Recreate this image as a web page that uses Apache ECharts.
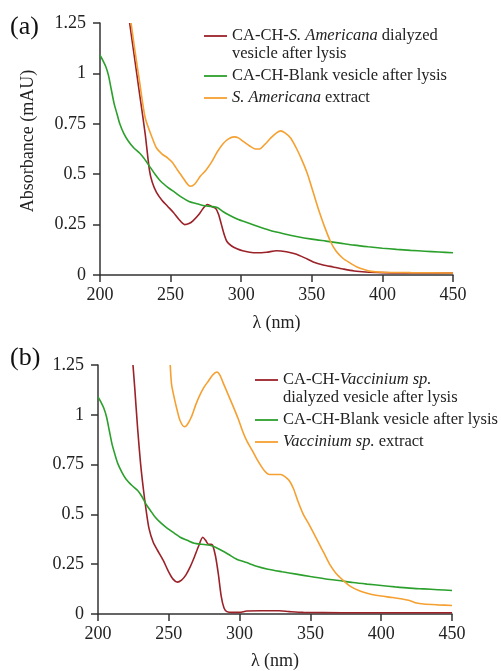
<!DOCTYPE html>
<html>
<head>
<meta charset="utf-8">
<script src="https://cdn.jsdelivr.net/npm/echarts@6/dist/echarts.min.js"></script>
<style>
html,body{margin:0;padding:0;background:#fff;}
#chart{width:501px;height:671px;}
</style>
</head>
<body>
<div id="chart"></div>
<script>
// ---------- tick labels ----------
var xTicks = [200, 250, 300, 350, 400, 450];
var yTicks = [0, 0.25, 0.5, 0.75, 1, 1.25];

// ---------- panel (a) ----------
var aRedNm  = [221,224,228,232,235,237,240,244,248,252,256,260,263,266,270,273,276,279,282,284,286,288,290,293,297,301,306,311,318,325,332,338,345,351,358,365,372,380,388,400,420,450];
var aRedAbs = [1.25,1.10,0.90,0.70,0.52,0.46,0.41,0.37,0.34,0.31,0.275,0.25,0.255,0.27,0.30,0.33,0.35,0.34,0.33,0.30,0.25,0.20,0.165,0.145,0.13,0.12,0.113,0.11,0.113,0.12,0.115,0.105,0.085,0.065,0.05,0.04,0.03,0.02,0.015,0.012,0.01,0.01];

var aGreenNm  = [200,202,204,206,208,210,212,214,217,220,224,228,231,235,239,243,248,253,258,263,268,273,279,283,287,292,298,305,312,320,330,340,350,360,370,380,390,400,410,420,430,440,450];
var aGreenAbs = [1.09,1.065,1.035,0.99,0.92,0.85,0.80,0.75,0.70,0.665,0.63,0.605,0.58,0.54,0.50,0.465,0.435,0.41,0.385,0.365,0.355,0.345,0.34,0.335,0.315,0.295,0.275,0.258,0.24,0.222,0.205,0.19,0.178,0.168,0.158,0.148,0.14,0.133,0.127,0.122,0.118,0.114,0.11];

var aOrangeNm  = [222,225,228,232,237,240,244,248,251,255,258,262,264,267,271,275,279,283,287,291,295,298,302,306,310,313,317,321,325,328,331,335,339,343,347,351,355,359,363,367,372,377,382,387,392,400,420,450];
var aOrangeAbs = [1.25,1.10,0.96,0.78,0.68,0.63,0.60,0.58,0.56,0.52,0.49,0.45,0.44,0.45,0.49,0.52,0.56,0.61,0.65,0.675,0.685,0.68,0.66,0.64,0.625,0.625,0.65,0.68,0.705,0.715,0.705,0.68,0.63,0.57,0.50,0.41,0.32,0.24,0.17,0.12,0.083,0.06,0.04,0.027,0.018,0.014,0.012,0.01];

// ---------- panel (b) ----------
var bRedNm  = [224.7,226,228,230,232,234,236,239,242,246,250,253,256,259,262,265,268,271,274,276,278,280,281,283,285,287,289,291,295,300,305,315,328,335,345,400,450];
var bRedAbs = [1.25,1.13,0.93,0.76,0.63,0.52,0.43,0.36,0.32,0.27,0.21,0.175,0.16,0.17,0.195,0.235,0.285,0.34,0.385,0.37,0.35,0.35,0.345,0.29,0.20,0.09,0.03,0.012,0.008,0.008,0.015,0.016,0.016,0.012,0.008,0.006,0.006];

var bGreenNm  = [200,202,204,206,208,210,212,214,217,220,224,228,231,234,237,240,244,249,254,258,263,268,273,279,283,287,292,298,305,312,320,330,340,350,360,370,380,390,400,410,420,430,440,450];
var bGreenAbs = [1.09,1.065,1.035,0.99,0.92,0.85,0.80,0.755,0.71,0.675,0.645,0.62,0.59,0.55,0.52,0.49,0.46,0.43,0.405,0.385,0.37,0.355,0.35,0.345,0.335,0.32,0.30,0.275,0.258,0.24,0.225,0.212,0.20,0.188,0.177,0.168,0.158,0.15,0.143,0.136,0.13,0.126,0.122,0.118];

var bOrangeNm  = [251,252,254,256,258,261,263,266,269,272,275,278,281,284,286,289,292,295,299,302,305,309,312,315,318,321,325,329,332,335,338,341,345,349,352,356,360,364,368,373,378,385,392,400,408,415,420,425,430,440,450];
var bOrangeAbs = [1.25,1.15,1.08,1.02,0.97,0.94,0.95,0.99,1.05,1.10,1.14,1.17,1.20,1.215,1.20,1.15,1.10,1.05,0.98,0.92,0.87,0.82,0.78,0.745,0.715,0.70,0.70,0.70,0.69,0.67,0.63,0.57,0.50,0.45,0.41,0.355,0.30,0.245,0.205,0.17,0.14,0.115,0.10,0.09,0.083,0.075,0.068,0.055,0.05,0.046,0.043];

// ---------- legend names ----------
var aRedName = 'CA-CH-S. Americana dialyzed vesicle after lysis';
var blankName = 'CA-CH-Blank vesicle after lysis';
var aOrangeName = 'S. Americana extract';
var bRedName = 'CA-CH-Vaccinium sp. dialyzed vesicle after lysis';
var bOrangeName = 'Vaccinium sp. extract';

var RED = '#9b2229', GREEN = '#2ca02c', ORANGE = '#f5a030';
var FONT = '"Liberation Serif", "Times New Roman", serif';
var LFS = 16.5;

function zip(xs, ys) { return xs.map(function (x, i) { return [x, ys[i]]; }); }

var legendRich = {
  e: { fontFamily: FONT, fontSize: LFS, lineHeight: 18, color: '#222' },
  n: { fontFamily: FONT, fontSize: LFS, lineHeight: 18, color: '#222' },
  i: { fontFamily: FONT, fontSize: LFS, lineHeight: 18, color: '#222', fontStyle: 'italic' }
};
var legendText = {};
legendText[aRedName] = '{e| }\n{n|CA-CH-}{i|S. Americana}{n| dialyzed}\n{n|vesicle after lysis}';
legendText[blankName] = '{n|CA-CH-Blank vesicle after lysis}';
legendText[aOrangeName] = '{i|S. Americana}{n| extract}';
legendText[bRedName] = '{e| }\n{n|CA-CH-}{i|Vaccinium sp.}\n{n|dialyzed vesicle after lysis}';
legendText[bOrangeName] = '{i|Vaccinium sp.}{n| extract}';

function makeX(idx, gap) {
  return {
    type: 'value', gridIndex: idx, min: xTicks[0], max: xTicks[xTicks.length - 1], interval: 50,
    name: 'λ (nm)', nameLocation: 'middle', nameGap: gap,
    nameTextStyle: { fontFamily: FONT, fontSize: 18, color: '#222' },
    axisLine: { show: true, onZero: false, lineStyle: { color: '#333', width: 1.5 } },
    axisTick: { show: true, inside: false, length: 7, lineStyle: { color: '#333', width: 1.5 } },
    axisLabel: { fontFamily: FONT, fontSize: 18, color: '#222', margin: 11 },
    splitLine: { show: false }
  };
}
function makeY(idx) {
  return {
    type: 'value', gridIndex: idx, min: yTicks[0], max: yTicks[yTicks.length - 1], interval: 0.25,
    axisLine: { show: true, onZero: false, lineStyle: { color: '#333', width: 1.5 } },
    axisTick: { show: true, inside: false, length: 7, lineStyle: { color: '#333', width: 1.5 } },
    axisLabel: { fontFamily: FONT, fontSize: 18, color: '#222', margin: 14 },
    splitLine: { show: false }
  };
}
function makeSeries(name, nm, abs, color, idx) {
  return {
    type: 'line', name: name, xAxisIndex: idx, yAxisIndex: idx,
    data: zip(nm, abs), showSymbol: false, symbol: 'none', smooth: 0.25,
    clip: true, lineStyle: { color: color, width: 1.6 }, itemStyle: { color: color }
  };
}
function makeLegend(left, top, names) {
  return {
    orient: 'vertical', left: left, top: top, padding: 0, itemGap: 4, itemWidth: 23, itemHeight: 1.8,
    icon: 'rect', data: names, selectedMode: false,
    formatter: function (n) { return legendText[n]; },
    textStyle: { fontFamily: FONT, fontSize: LFS, lineHeight: 18, color: '#222', rich: legendRich }
  };
}

var chart = echarts.init(document.getElementById('chart'), null, { renderer: 'canvas' });
chart.setOption({
  animation: false,
  backgroundColor: '#ffffff',
  grid: [
    { left: 100, top: 23, width: 353, height: 252 },
    { left: 98, top: 365, width: 354, height: 253 }
  ],
  xAxis: [makeX(0, 39), makeX(1, 38)],
  yAxis: [makeY(0), makeY(1)],
  legend: [
    makeLegend(204, 9, [aRedName, blankName, aOrangeName]),
    makeLegend(255, 353, [bRedName, blankName, bOrangeName])
  ],
  graphic: [
    { type: 'text', left: 10, top: 14, style: { text: '(a)', font: '26px ' + FONT, fill: '#111' } },
    { type: 'text', left: 10, top: 345, style: { text: '(b)', font: '26px ' + FONT, fill: '#111' } },
    { type: 'text', x: 28, y: 141, rotation: Math.PI / 2,
      style: { text: 'Absorbance (mAU)', font: '18px ' + FONT, fill: '#222', align: 'center', verticalAlign: 'middle' } }
  ],
  series: [
    makeSeries(aRedName, aRedNm, aRedAbs, RED, 0),
    makeSeries(blankName, aGreenNm, aGreenAbs, GREEN, 0),
    makeSeries(aOrangeName, aOrangeNm, aOrangeAbs, ORANGE, 0),
    makeSeries(bRedName, bRedNm, bRedAbs, RED, 1),
    makeSeries(blankName, bGreenNm, bGreenAbs, GREEN, 1),
    makeSeries(bOrangeName, bOrangeNm, bOrangeAbs, ORANGE, 1)
  ]
});
</script>
</body>
</html>
